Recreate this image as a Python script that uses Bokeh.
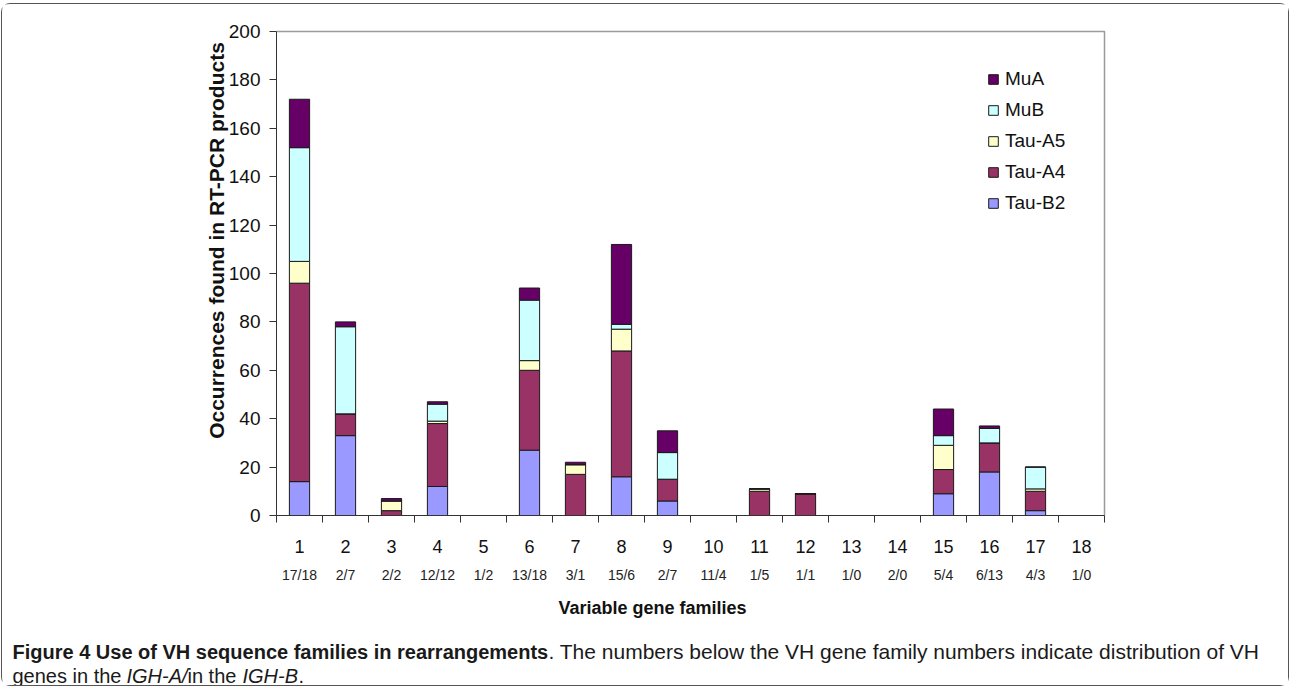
import math
from bokeh.plotting import figure
from bokeh.models import (Range1d, FixedTicker, LinearAxis, Legend, LegendItem,
                          Label, ColumnDataSource)
from bokeh.embed import file_html
from bokeh.resources import INLINE

# ---------------- data ----------------
families = [str(i) for i in range(1, 19)]
distribution = ["17/18", "2/7", "2/2", "12/12", "1/2", "13/18", "3/1", "15/6", "2/7",
                "11/4", "1/5", "1/1", "1/0", "2/0", "5/4", "6/13", "4/3", "1/0"]
series_names = ["Tau-B2", "Tau-A4", "Tau-A5", "MuB", "MuA"]
tau_b2 = [14, 33, 0, 12, 0, 27, 0, 16, 6, 0, 0, 0, 0, 0, 9, 18, 2, 0]
tau_a4 = [82, 9, 2, 26, 0, 33, 17, 52, 9, 0, 10, 9, 0, 0, 10, 12, 8, 0]
tau_a5 = [9, 0, 4, 1, 0, 4, 4, 9, 0, 0, 1, 0, 0, 0, 10, 0, 1, 0]
mu_b = [47, 36, 0, 7, 0, 25, 0, 2, 11, 0, 0, 0, 0, 0, 4, 6, 9, 0]
mu_a = [20, 2, 1, 1, 0, 5, 1, 33, 9, 0, 0, 0, 0, 0, 11, 1, 0, 0]
series_colors = ["#9999FF", "#993366", "#FFFFCC", "#CCFFFF", "#660066"]
y_ticks = list(range(0, 201, 20))
y_min, y_max = 0, 200

x_pos = [i + 1 for i in range(len(families))]
x_lo, x_hi = 0.5, len(families) + 0.5
src = ColumnDataSource(dict(x=x_pos, families=families,
                            **{"Tau-B2": tau_b2, "Tau-A4": tau_a4, "Tau-A5": tau_a5,
                               "MuB": mu_b, "MuA": mu_a}))

FONT = "Liberation Sans"

# ---------------- layout (canvas pixels) ----------------
W, H = 1288, 683
PL, PR, PT, PB = 274, 1102, 27, 511   # plot area inside the canvas
sx = (PR - PL) / (x_hi - x_lo)
sy = (PB - PT) / (y_max - y_min)
x_range = Range1d(x_lo - PL / sx, x_hi + (W - PR) / sx)
y_range = Range1d(y_min - (H - PB) / sy, y_max + PT / sy)

p = figure(width=W, height=H, x_range=x_range, y_range=y_range,
           output_backend="svg", toolbar_location=None,
           min_border_left=0, min_border_right=0, min_border_top=0, min_border_bottom=0)
p.styles = {"border": "1px solid #555555", "border-radius": "9px",
            "margin-left": "1px", "margin-top": "3px"}
p.xgrid.visible = False
p.ygrid.visible = False
p.outline_line_color = None

# plot-area border (top and right)
p.line(x=[x_lo, x_hi, x_hi], y=[y_max, y_max, y_min], line_color="#9a9a9a", line_width=1.5)

renderers = p.vbar_stack(series_names, x="x", width=0.44, source=src,
                         fill_color=series_colors, line_color="#1a1a1a", line_width=1)

# y axis
ya = p.yaxis[0]
ya.fixed_location = x_lo
ya.bounds = (y_min, y_max)
ya.ticker = FixedTicker(ticks=y_ticks)
ya.major_tick_out = 7
ya.major_tick_in = 0
ya.minor_tick_line_color = None
ya.axis_line_color = "#333333"
ya.major_tick_line_color = "#333333"
ya.major_label_text_font = FONT
ya.major_label_text_font_size = "19px"
ya.major_label_text_color = "#111111"
ya.major_label_standoff = 9

# x axis: numbers at centres, tick marks between categories
xa = p.xaxis[0]
xa.fixed_location = y_min
xa.bounds = (x_lo, x_hi)
xa.ticker = FixedTicker(ticks=x_pos, minor_ticks=[i + 0.5 for i in range(len(families) + 1)])
xa.major_label_overrides = {x: f for x, f in zip(x_pos, families)}
xa.major_tick_out = 0
xa.major_tick_in = 0
xa.minor_tick_out = 7
xa.minor_tick_in = 0
xa.axis_line_color = "#333333"
xa.minor_tick_line_color = "#333333"
xa.major_label_text_font = FONT
xa.major_label_text_font_size = "18px"
xa.major_label_text_color = "#111111"
xa.major_label_standoff = 17

ax2 = LinearAxis(ticker=FixedTicker(ticks=x_pos), fixed_location=y_min,
                 major_label_overrides={x: d for x, d in zip(x_pos, distribution)},
                 axis_line_color=None, major_tick_line_color=None,
                 minor_tick_line_color=None, major_tick_out=0, major_tick_in=0,
                 major_label_standoff=51,
                 major_label_text_font=FONT, major_label_text_font_size="14px",
                 major_label_text_color="#222222")
p.add_layout(ax2, "below")

# legend
items = [LegendItem(label=n, renderers=[r]) for n, r in zip(series_names, renderers)][::-1]
legend = Legend(items=items, location=(985, 473), orientation="vertical",
                glyph_width=12, glyph_height=12, label_height=21, spacing=9,
                label_standoff=6, padding=0, margin=0,
                border_line_color=None, background_fill_alpha=0,
                label_text_font=FONT, label_text_font_size="19px",
                label_text_color="#111111")
p.add_layout(legend)

# axis titles (screen units: from canvas left / bottom)
p.add_layout(Label(x=214, y=447, x_units="screen", y_units="screen",
                   text="Occurrences found in RT-PCR products", angle=math.pi / 2,
                   text_align="center", text_baseline="middle",
                   text_font=FONT, text_font_style="bold", text_font_size="21px",
                   text_color="#111111"))
p.add_layout(Label(x=650, y=80, x_units="screen", y_units="screen",
                   text="Variable gene families",
                   text_align="center", text_baseline="middle",
                   text_font=FONT, text_font_style="bold", text_font_size="18px",
                   text_color="#111111"))

# caption
cap = [
    (10, 36, "Figure 4 Use of VH sequence families in rearrangements", "bold", "20px"),
    (546, 36, ". The numbers below the VH gene family numbers indicate distribution of VH", "normal", "21px"),
    (10, 12, "genes in the ", "normal", "20px"),
    (124, 12, "IGH-A/", "italic", "20px"),
    (185, 12, "in the ", "normal", "20px"),
    (240, 12, "IGH-B", "italic", "20px"),
    (296, 12, ".", "normal", "20px"),
]
for x, y, t, st, fs in cap:
    p.add_layout(Label(x=x, y=y, x_units="screen", y_units="screen", text=t,
                       text_align="left", text_baseline="alphabetic",
                       text_font=FONT, text_font_style=st, text_font_size=fs,
                       text_color="#1a1a1a"))

open("out.html", "w").write(file_html(p, INLINE))
